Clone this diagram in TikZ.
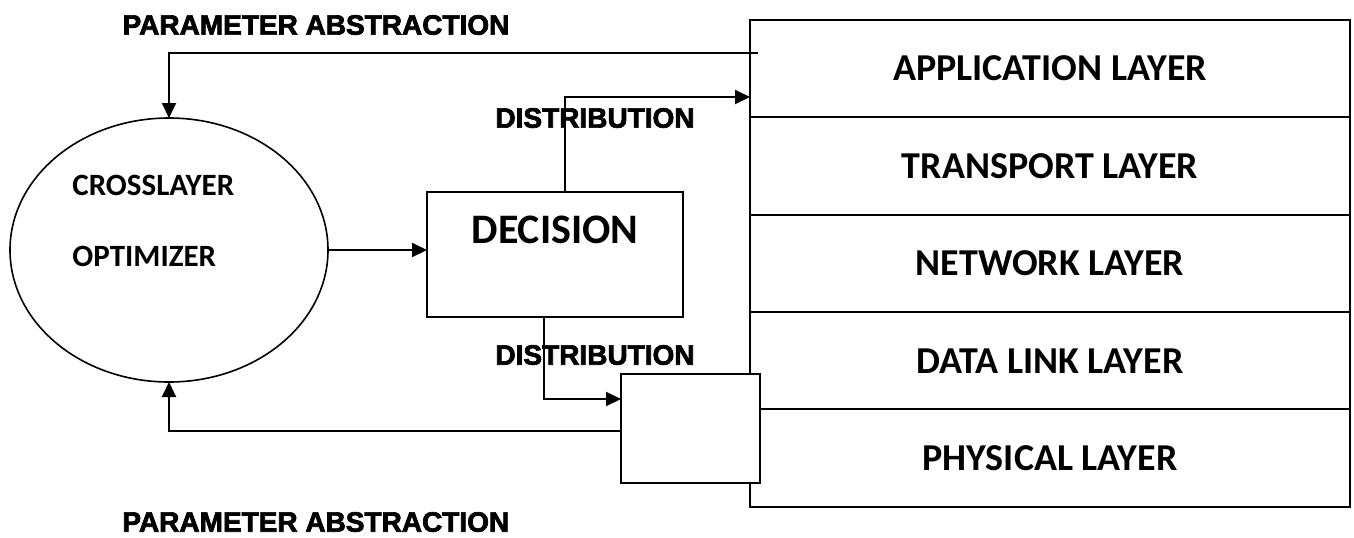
\documentclass[tikz,border=0pt]{standalone}
\usepackage{fontspec}
\setmainfont{Carlito}
\newfontfamily\headfont{Liberation Sans}[BoldFeatures={FakeBold=2.5}]
\usetikzlibrary{arrows.meta,positioning,shapes.geometric}

\begin{document}
\begin{tikzpicture}[
  x=0.5pt, y=-0.5pt,
  box/.style={draw, line width=1pt, inner sep=0pt, outer sep=0pt, fill=white},
  layer/.style={box, minimum width=300pt, minimum height=48.7pt,
    font=\bfseries\fontsize{19}{22}\selectfont},
  head/.style={font=\headfont\bfseries\fontsize{14}{16}\selectfont, inner sep=0pt},
  inner/.style={font=\bfseries\fontsize{15.5}{18}\selectfont, inner sep=0pt, anchor=west},
  arrow/.style={-{Triangle[length=7.5pt,width=7pt]}, line width=1pt}
]
\useasboundingbox (0,0) rectangle (1354,537);
% protocol stack
\node[layer] (app) at (1050,68.5) {APPLICATION LAYER};
\node[layer, below=0pt of app] (trans) {TRANSPORT LAYER};
\node[layer, below=0pt of trans] (net) {NETWORK LAYER};
\node[layer, below=0pt of net] (dlink) {DATA LINK LAYER};
\node[layer, below=0pt of dlink] (phys) {PHYSICAL LAYER};
% optimizer and decision
\node[ellipse, draw, line width=0.8pt, inner sep=0pt, outer sep=0pt,
  minimum width=159pt, minimum height=132pt] (opt) at (169,250) {};
\node[inner] (cross) at (72,185) {CROSSLAYER};
\node[inner] (optim) at (72,256) {OPTIMIZER};
\node[box, minimum width=128pt, minimum height=62.5pt,
  label={[yshift=12.25pt, font=\bfseries\fontsize{21}{24}\selectfont]center:DECISION}] (dec) at (555,254.5) {};
\node[box, minimum width=69.5pt, minimum height=54.5pt] (adapt) at (690.5,428.5) {};
% labels
\node[head] (abstop) at (316,25) {PARAMETER ABSTRACTION};
\node[head, anchor=west] (absbot) at (122,522) {PARAMETER ABSTRACTION};
\node[head] (disttop) at (595,118) {DISTRIBUTION};
\node[head] (distbot) at (595,355) {DISTRIBUTION};
% connectors
\draw[arrow] (opt.east) -- (opt.east -| dec.west);
\draw[arrow] ([xshift=5pt]dec.north) |- ([yshift=-14.25pt]app.west);
\draw[arrow] ([xshift=-5.5pt]dec.south) |- ([yshift=14.75pt]adapt.west);
\draw[arrow] ([xshift=4pt,yshift=7.75pt]app.west) -| (opt.north);
\draw[arrow] ([yshift=-1.25pt]adapt.west) -| (opt.south);
\end{tikzpicture}
\end{document}
